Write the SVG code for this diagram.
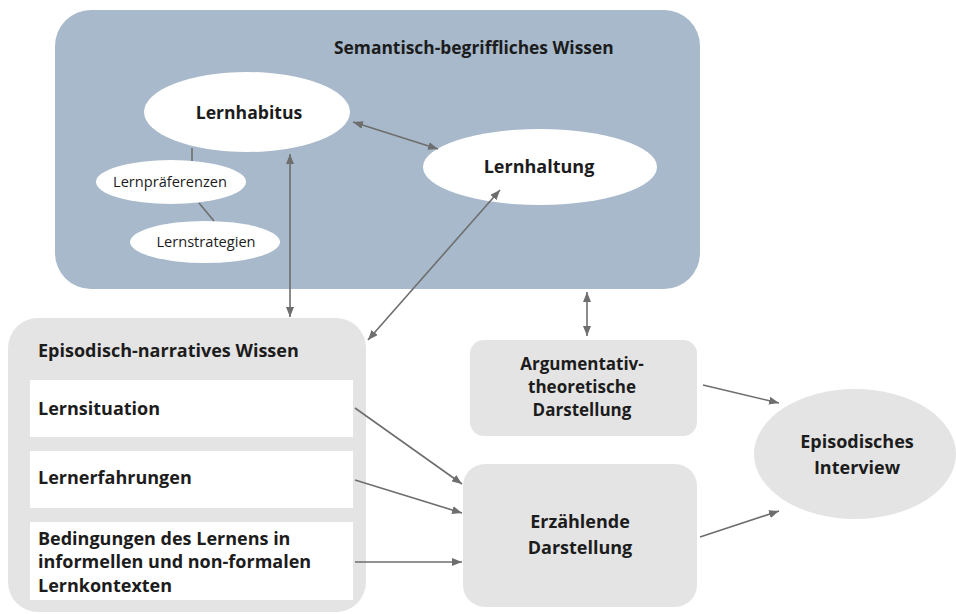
<svg xmlns="http://www.w3.org/2000/svg" width="956" height="614" viewBox="0 0 956 614">
  <style>
    .lbl { font-family: "Open Sans", "Liberation Sans", sans-serif; fill: #1c1c1c; }
    .b { font-weight: bold; }
    .conn { stroke: #6e6e6e; stroke-width: 1.6; fill: none; }
    .wh { fill: #ffffff; }
    .gr { fill: #e4e4e4; }
  </style>
  <defs>
    <marker id="ah" viewBox="0 0 10 8" refX="10" refY="4" markerWidth="10" markerHeight="8" markerUnits="userSpaceOnUse" orient="auto-start-reverse">
      <path d="M0,0 L10,4 L0,8 z" fill="#6e6e6e"/>
    </marker>
  </defs>
  <rect width="956" height="614" fill="#ffffff"/>

  <!-- semantic knowledge area -->
  <g id="semantisch">
    <rect x="55" y="10" width="645" height="279" rx="36" fill="#a7b9ca"/>
    <text class="lbl b" x="334" y="54" font-size="17.4">Semantisch-begriffliches Wissen</text>
  </g>
  <g id="lernhabitus">
    <ellipse class="wh" cx="247" cy="112" rx="103" ry="40"/>
    <text class="lbl b" x="249" y="119" font-size="17.6" text-anchor="middle">Lernhabitus</text>
  </g>
  <g id="lernhaltung">
    <ellipse class="wh" cx="540" cy="167" rx="117" ry="38"/>
    <text class="lbl b" x="539" y="173" font-size="18" text-anchor="middle">Lernhaltung</text>
  </g>
  <g id="lernpraeferenzen">
    <ellipse class="wh" cx="171" cy="182" rx="75" ry="22"/>
    <text class="lbl" x="170" y="187" font-size="14.6" text-anchor="middle">Lernpräferenzen</text>
  </g>
  <g id="lernstrategien">
    <ellipse class="wh" cx="205" cy="242" rx="75" ry="21"/>
    <text class="lbl" x="206" y="247" font-size="14.6" text-anchor="middle">Lernstrategien</text>
  </g>

  <!-- episodic knowledge area -->
  <g id="episodisch">
    <rect class="gr" x="8" y="318" width="358" height="294" rx="30"/>
    <text class="lbl b" x="38" y="357" font-size="18">Episodisch-narratives Wissen</text>
  </g>
  <g id="lernsituation">
    <rect class="wh" x="30" y="380" width="323" height="57"/>
    <text class="lbl b" x="38" y="415" font-size="18">Lernsituation</text>
  </g>
  <g id="lernerfahrungen">
    <rect class="wh" x="30" y="451" width="323" height="57"/>
    <text class="lbl b" x="38" y="484" font-size="18">Lernerfahrungen</text>
  </g>
  <g id="bedingungen">
    <rect class="wh" x="30" y="522" width="323" height="78"/>
    <text class="lbl b" x="38" y="545" font-size="18">Bedingungen des Lernens in</text>
    <text class="lbl b" x="38" y="568" font-size="18">informellen und non-formalen</text>
    <text class="lbl b" x="38" y="592" font-size="18">Lernkontexten</text>
  </g>

  <!-- forms of presentation -->
  <g id="argumentativ">
    <rect class="gr" x="470" y="340" width="227" height="96" rx="14"/>
    <text class="lbl b" x="582" y="370" font-size="17" text-anchor="middle">Argumentativ-</text>
    <text class="lbl b" x="582" y="393" font-size="17" text-anchor="middle">theoretische</text>
    <text class="lbl b" x="582" y="416" font-size="17" text-anchor="middle">Darstellung</text>
  </g>
  <g id="erzaehlend">
    <rect class="gr" x="463" y="464" width="234" height="143" rx="22"/>
    <text class="lbl b" x="580" y="528" font-size="18" text-anchor="middle">Erzählende</text>
    <text class="lbl b" x="580" y="554" font-size="18" text-anchor="middle">Darstellung</text>
  </g>
  <g id="interview">
    <ellipse class="gr" cx="855" cy="454" rx="101" ry="65"/>
    <text class="lbl b" x="857" y="448" font-size="18" text-anchor="middle">Episodisches</text>
    <text class="lbl b" x="857" y="474" font-size="18" text-anchor="middle">Interview</text>
  </g>

  <!-- connectors -->
  <g id="connectors">
    <line class="conn" x1="192" y1="148" x2="192" y2="161"/>
    <line class="conn" x1="199" y1="203" x2="214" y2="221"/>
    <line class="conn" x1="353" y1="122" x2="438" y2="149" marker-start="url(#ah)" marker-end="url(#ah)"/>
    <line class="conn" x1="290" y1="154" x2="290" y2="317" marker-start="url(#ah)" marker-end="url(#ah)"/>
    <line class="conn" x1="500" y1="190" x2="368" y2="340" marker-start="url(#ah)" marker-end="url(#ah)"/>
    <line class="conn" x1="587" y1="292" x2="587" y2="336" marker-start="url(#ah)" marker-end="url(#ah)"/>
    <line class="conn" x1="355" y1="408" x2="462" y2="484" marker-end="url(#ah)"/>
    <line class="conn" x1="355" y1="480" x2="462" y2="513" marker-end="url(#ah)"/>
    <line class="conn" x1="355" y1="562" x2="462" y2="562" marker-end="url(#ah)"/>
    <line class="conn" x1="703" y1="385" x2="779" y2="403" marker-end="url(#ah)"/>
    <line class="conn" x1="700" y1="537" x2="779" y2="511" marker-end="url(#ah)"/>
  </g>
</svg>
